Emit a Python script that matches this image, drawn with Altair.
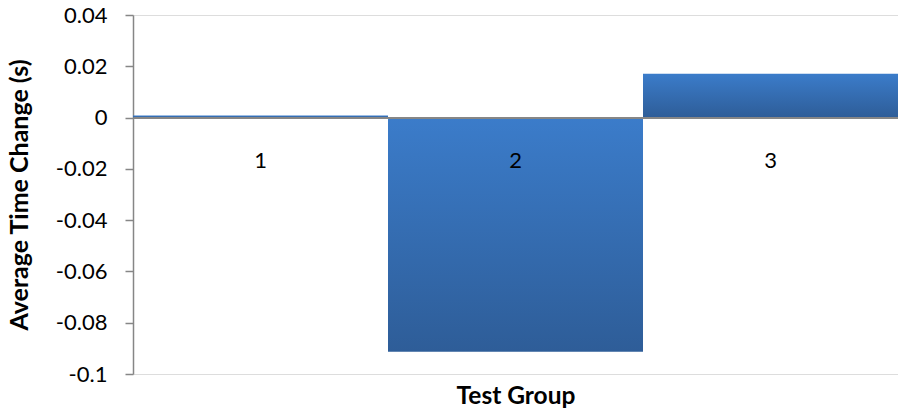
import altair as alt
import pandas as pd

groups = ["1", "2", "3"]
values = [0.0008, -0.0913, 0.0171]
y_ticks = [-0.1, -0.08, -0.06, -0.04, -0.02, 0, 0.02, 0.04]

df = pd.DataFrame({"group": groups, "value": values})

FONT = "Lato"
AXIS_GRAY = "#868686"
W, H = 765, 359

grad = alt.Gradient(
    gradient="linear",
    stops=[alt.GradientStop(color="#3b7cca", offset=0),
           alt.GradientStop(color="#2e5d98", offset=1)],
    x1=0, x2=0, y1=0, y2=1,
)

chart = alt.Chart(df).mark_bar(color=grad).encode(
    x=alt.X("group:N", sort=groups,
            scale=alt.Scale(paddingInner=0, paddingOuter=0),
            axis=alt.Axis(title="Test Group", labelAngle=0, ticks=False, tickSize=0,
                          labelPadding=43, labelBaseline="middle",
                          labelFont=FONT, labelFontSize=22, labelColor="#000000",
                          domainColor=AXIS_GRAY, domainWidth=2,
                          offset=-(H - H * 0.04 / 0.14), zindex=1,
                          titleFont=FONT, titleFontSize=24.5, titleFontWeight="bold",
                          titleColor="#000000", titleY=279, titleBaseline="middle")),
    y=alt.Y("value:Q",
            scale=alt.Scale(domain=[-0.1, 0.04], nice=False, zero=False),
            axis=alt.Axis(title="Average Time Change (s)", values=y_ticks, grid=False,
                          format="~g", labelExpr="replace(datum.label, '\u2212', '-')",
                          labelFont=FONT, labelFontSize=22, labelColor="#000000",
                          labelPadding=18, tickSize=8, tickColor=AXIS_GRAY, tickWidth=1.5,
                          domainColor=AXIS_GRAY, domainWidth=1.5,
                          titleFont=FONT, titleFontSize=25, titleFontWeight="bold",
                          titleColor="#000000", titleAngle=270, titleX=-114, titleY=H / 2,
                          titleAlign="center", titleBaseline="middle")),
).properties(
    width=W, height=H,
    autosize=alt.AutoSizeParams(type="none"),
    padding={"left": 133, "top": 15, "right": 0, "bottom": 37},
).configure_view(stroke=None).configure(background="white")

chart.save("out.html", embed_options={"renderer": "svg", "actions": False})
